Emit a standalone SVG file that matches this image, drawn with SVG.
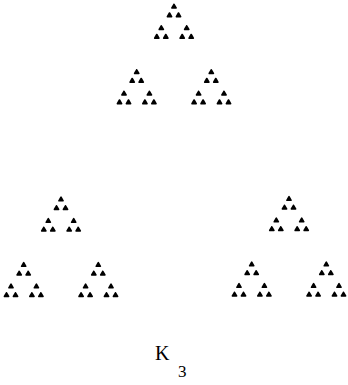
<svg xmlns="http://www.w3.org/2000/svg" xmlns:xlink="http://www.w3.org/1999/xlink" width="348" height="385" viewBox="0 0 348 385">
<style>
.tri{fill:#000;stroke:#000;stroke-width:1.6;stroke-linejoin:round}
.lbl{font-family:"Liberation Serif","Times New Roman",serif;fill:#000}
</style>
<defs>
<polygon id="t0" class="tri" points="0,-1.9 -2.1,1.8 2.1,1.8"/>
<g id="t1">
<use href="#t0" xlink:href="#t0"/>
<use href="#t0" xlink:href="#t0" x="-4.5" y="8.7"/>
<use href="#t0" xlink:href="#t0" x="4.5" y="8.7"/>
</g>
<g id="t2">
<use href="#t1" xlink:href="#t1"/>
<use href="#t1" xlink:href="#t1" x="-12.7" y="21.5"/>
<use href="#t1" xlink:href="#t1" x="12.7" y="21.5"/>
</g>
<g id="t3">
<use href="#t2" xlink:href="#t2"/>
<use href="#t2" xlink:href="#t2" x="-37.3" y="65.5"/>
<use href="#t2" xlink:href="#t2" x="37.3" y="65.5"/>
</g>
</defs>
<g id="top-cluster"><use href="#t3" xlink:href="#t3" x="174" y="6.2"/></g>
<g id="left-cluster"><use href="#t3" xlink:href="#t3" x="61" y="199"/></g>
<g id="right-cluster"><use href="#t3" xlink:href="#t3" x="289" y="198.5"/></g>
<g id="label">
<text class="lbl" x="155" y="360" font-size="20">K</text>
<text class="lbl" x="178" y="377" font-size="17">3</text>
</g>
</svg>
